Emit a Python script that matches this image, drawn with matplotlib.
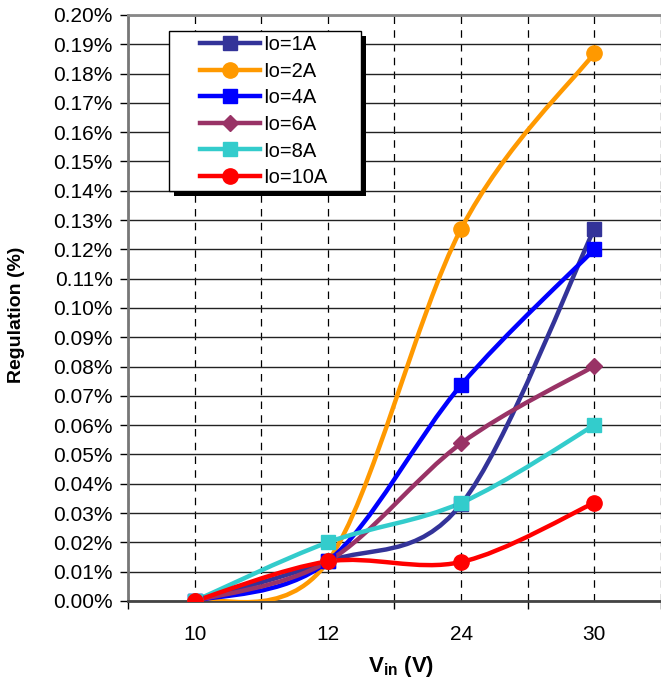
import matplotlib
matplotlib.use("Agg")
import matplotlib.pyplot as plt
from matplotlib.path import Path
from matplotlib.patches import PathPatch, Rectangle
from matplotlib.lines import Line2D
import numpy as np

plt.rcParams['font.family'] = ['Liberation Sans', 'DejaVu Sans']
plt.rcParams['mathtext.fontset'] = 'custom'
plt.rcParams['mathtext.rm'] = 'Liberation Sans'
plt.rcParams['mathtext.bf'] = 'Liberation Sans:bold'

vin = ['10', '12', '24', '30']
labels = ['Io=1A', 'Io=2A', 'Io=4A', 'Io=6A', 'Io=8A', 'Io=10A']
# regulation in %
io1 = [0.0, 0.0135, 0.0330, 0.1270]
io2 = [0.0, 0.0135, 0.1270, 0.1870]
io4 = [0.0, 0.0135, 0.0737, 0.1200]
io6 = [0.0, 0.0135, 0.0538, 0.0802]
io8 = [0.0, 0.0200, 0.0335, 0.0600]
io10 = [0.0, 0.0135, 0.0133, 0.0335]
series = [io1, io2, io4, io6, io8, io10]
colors = ['#333399', '#FF9900', '#0000FF', '#993366', '#33CCCC', '#FF0000']
markers = ['s', 'o', 's', 'D', 's', 'o']
msizes = [10, 11, 10, 8, 10, 11]


def smooth_path(xs, ys):
    # excel-like smoothed line as cubic bezier segments
    pts = np.column_stack([xs, ys])
    n = len(pts)
    verts = [pts[0]]
    codes = [Path.MOVETO]
    for i in range(n - 1):
        p0 = pts[max(i - 1, 0)]
        p1 = pts[i]
        p2 = pts[i + 1]
        p3 = pts[min(i + 2, n - 1)]
        c1 = p1 + (p2 - p0) / 6.0
        c2 = p2 - (p3 - p1) / 6.0
        verts += [c1, c2, p2]
        codes += [Path.CURVE4] * 3
    return Path(verts, codes)


fig = plt.figure(figsize=(6.61, 6.81), dpi=100)
ax = fig.add_axes([0.1936, 0.1175, 0.8064, 0.8605])

x = np.arange(len(vin))
for ys, c, m, ms in zip(series, colors, markers, msizes):
    ax.add_patch(PathPatch(smooth_path(x, ys), facecolor='none', edgecolor=c,
                           lw=3.2, capstyle='round', joinstyle='round', zorder=3))
    ax.plot(x, ys, linestyle='none', marker=m, markersize=ms, color=c,
            markeredgecolor=c, zorder=4)

ax.set_xlim(-0.5, 3.5)
ax.set_ylim(0, 0.20)
yt = np.arange(0, 0.2001, 0.01)
ax.set_yticks(yt)
ax.set_yticklabels([f'{v:.2f}%' for v in yt], fontsize=15)

ax.set_xticks(x)
ax.set_xticklabels(vin, fontsize=15)
ax.set_xticks(np.arange(-0.5, 3.6, 1.0), minor=True)
ax.tick_params(axis='x', which='major', length=0, pad=17)
ax.tick_params(axis='x', which='minor', length=6, width=1, color='black', direction='out')
ax.tick_params(axis='y', length=6, width=1, color='black', direction='out', pad=5)

ax.grid(axis='y', color='#222222', lw=1, linestyle='-', zorder=1)
ax.grid(axis='x', which='both', color='black', lw=0.9, linestyle=(0, (6, 5)), zorder=1)
ax.set_axisbelow(True)

ax.spines['right'].set_visible(False)
ax.spines['top'].set_color('#888888')
ax.spines['top'].set_linewidth(2)
ax.spines['left'].set_color('#777777')
ax.spines['left'].set_linewidth(2)
ax.spines['bottom'].set_color('#444444')
ax.spines['bottom'].set_linewidth(2)

ax.set_ylabel('Regulation (%)', fontsize=14, fontweight='bold')
ax.yaxis.set_label_coords(-0.193, 0.488)
ax.set_xlabel(r'$\mathbf{V_{in}}$ (V)', fontsize=16, fontweight='bold')
ax.xaxis.set_label_coords(0.512, -0.09)

# legend box with hard shadow
bx0, by0, bw, bh = 0.0769, 0.6997, 0.3602, 0.2730
dx, dy = 5 / 533, 5 / 586
ax.add_patch(Rectangle((bx0 + dx, by0 - dy), bw, bh, transform=ax.transAxes,
                       facecolor='black', edgecolor='none', zorder=8))
ax.add_patch(Rectangle((bx0, by0), bw, bh, transform=ax.transAxes,
                       facecolor='white', edgecolor='black', lw=1, zorder=9))
handles = [Line2D([], [], color=c, lw=3.2, marker=m, markersize=ms)
           for c, m, ms in zip(colors, markers, msizes)]
leg = ax.legend(handles, labels, loc='upper left', bbox_to_anchor=(0.135, 0.966),
                borderaxespad=0, borderpad=0, fontsize=14.5, handlelength=3.0,
                handletextpad=0.15, labelspacing=0.38, frameon=False)
leg.set_zorder(10)

fig.savefig('out.png', dpi=100)
